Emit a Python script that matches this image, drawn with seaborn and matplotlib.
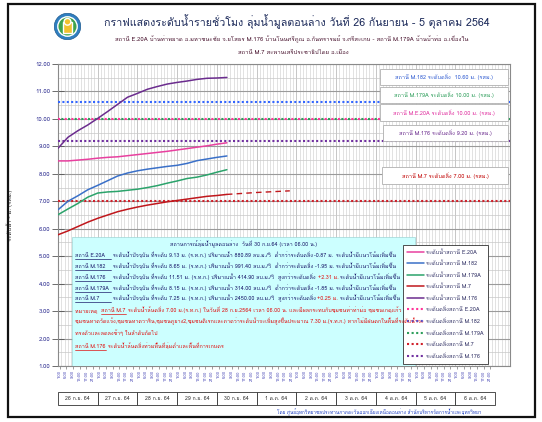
import numpy as np
import pandas as pd
import matplotlib
matplotlib.use("Agg")
import matplotlib.pyplot as plt
import seaborn as sns
from matplotlib import font_manager
from matplotlib.ft2font import FT2Font
from matplotlib.patches import Rectangle, Circle
from matplotlib.lines import Line2D
import matplotlib.transforms as mtrans
from matplotlib.ticker import MultipleLocator

# ---------------- data ----------------
hours = [0, 6, 12, 18, 24, 30, 36, 42, 48, 54, 60, 66, 72, 78, 84, 90, 96, 102]
e20a = [8.47, 8.47, 8.50, 8.53, 8.57, 8.60, 8.62, 8.66, 8.70, 8.74, 8.78, 8.82, 8.87, 8.92, 8.97, 9.02, 9.08, 9.13]
m182 = [6.69, 7.00, 7.20, 7.42, 7.58, 7.75, 7.92, 8.03, 8.11, 8.17, 8.22, 8.27, 8.31, 8.38, 8.48, 8.54, 8.60, 8.65]
m179a = [6.51, 6.72, 6.92, 7.15, 7.30, 7.34, 7.36, 7.40, 7.44, 7.50, 7.57, 7.66, 7.74, 7.83, 7.88, 7.96, 8.06, 8.15]
m7 = [5.78, 5.92, 6.08, 6.24, 6.38, 6.50, 6.62, 6.71, 6.79, 6.86, 6.92, 6.98, 7.03, 7.08, 7.13, 7.18, 7.21, 7.25]
m176 = [8.93, 9.33, 9.57, 9.78, 10.02, 10.27, 10.53, 10.79, 10.93, 11.08, 11.18, 11.27, 11.33, 11.38, 11.44, 11.48, 11.49, 11.51]

forecast_hours = [102, 120, 140]
m7_forecast = [7.25, 7.32, 7.38]

stations = ["E.20A", "M.182", "M.179A", "M.7", "M.176"]
bank_values = [10.00, 10.60, 10.00, 7.00, 9.20]

day_labels = ["26 ก.ย. 64", "27 ก.ย. 64", "28 ก.ย. 64", "29 ก.ย. 64", "30 ก.ย. 64",
              "1 ต.ค. 64", "2 ต.ค. 64", "3 ต.ค. 64", "4 ต.ค. 64", "5 ต.ค. 64", "6 ต.ค. 64"]
tick_hours = list(range(1, 264, 4))
tick_labels = [f"{h % 24}:00" for h in tick_hours]
y_ticks = [1, 2, 3, 4, 5, 6, 7, 8, 9, 10, 11, 12]

# ---------------- styling ----------------
line_colors = {"E.20A": "#E8409F", "M.182": "#3A70C8", "M.179A": "#2BA36B",
               "M.7": "#C0171C", "M.176": "#6B2C8E"}
bank_colors = {"E.20A": "#FF3399", "M.182": "#3366FF", "M.179A": "#2E9E5B",
               "M.7": "#D0202A", "M.176": "#7030A0"}


def thai_fonts():
    names = []
    for f in font_manager.fontManager.ttflist:
        try:
            if 0x0E01 in FT2Font(f.fname).get_charmap():
                if f.name not in names:
                    names.append(f.name)
        except Exception:
            pass
    return names


sns.set_theme(style="white")
thai = thai_fonts()
plt.rcParams["font.family"] = (thai[:1] if thai else []) + ["DejaVu Sans"]

W, H = 542, 422
fig = plt.figure(figsize=(W / 100, H / 100), dpi=100)
fig.patch.set_facecolor("white")


def fx(px):
    return px / W


def fy(py):
    return (H - py) / H


ax = fig.add_axes([fx(58), fy(366), fx(510) - fx(58), fy(64) - fy(366)])
ax.set_facecolor("white")

# long-form frame
series = {"E.20A": e20a, "M.182": m182, "M.179A": m179a, "M.7": m7, "M.176": m176}
rows = []
for st in stations:
    for h, v in zip(hours, series[st]):
        rows.append({"hour": h, "level": v, "label": "ระดับน้ำสถานี " + st})
df = pd.DataFrame(rows)
hue_order = ["ระดับน้ำสถานี " + s for s in stations]
palette = {"ระดับน้ำสถานี " + s: line_colors[s] for s in stations}

sns.lineplot(data=df, x="hour", y="level", hue="label", hue_order=hue_order,
             palette=palette, linewidth=1.1, ax=ax, zorder=5)

fc = pd.DataFrame({"hour": forecast_hours, "level": m7_forecast})
sns.lineplot(data=fc, x="hour", y="level", color=line_colors["M.7"], linewidth=1.0,
             ax=ax, zorder=5, legend=False)
ax.lines[-1].set_dashes((4, 3))

# bank levels
bank_styles = {"E.20A": (0, (1, 2.2)), "M.182": (0, (1, 1.1)), "M.179A": (1.6, (1, 2.2)),
               "M.7": (0, (1, 1.1)), "M.176": (0, (1, 1.1))}
bank_handles = []
for st, val in zip(stations, bank_values):
    ax.axhline(val, color=bank_colors[st], lw=1.5, ls=bank_styles[st], zorder=4)
    bank_handles.append(Line2D([], [], color=bank_colors[st], lw=1.5, ls=(0, (1, 1.2)),
                               label="ระดับตลิ่งสถานี " + st))

ax.set_xlim(0, 273)
ax.set_ylim(1, 12)
ax.set_yticks(y_ticks)
ax.set_yticklabels([f"{v:.2f}" for v in y_ticks])
ax.yaxis.set_minor_locator(MultipleLocator(0.5))
ax.set_xticks(tick_hours)
ax.set_xticklabels(tick_labels, rotation=90)
ax.xaxis.set_minor_locator(MultipleLocator(2))
ax.grid(which="major", axis="y", color="#9a9a9a", lw=0.8)
ax.grid(which="minor", axis="y", color="#c8c8c8", lw=0.5)
ax.grid(which="minor", axis="x", color="#d2d2d2", lw=0.45)
ax.grid(which="major", axis="x", visible=False)
for d in range(len(day_labels)):
    ax.axvline(d * 24, color="#a8a8a8", lw=0.6, zorder=0.5)
ax.tick_params(axis="y", which="major", direction="inout", length=9, width=0.6,
               labelsize=4.3, labelcolor="#2B2B8F", color="#555555", left=True, pad=1)
ax.tick_params(axis="x", which="major", direction="out", length=2, width=0.4,
               labelsize=3.0, labelcolor="#4545B5", color="#555555", bottom=True, pad=1)
ax.tick_params(which="minor", length=0)
for s in ax.spines.values():
    s.set_color("#8a8a8a")
    s.set_linewidth(0.8)
ax.set_xlabel("")
ax.set_ylabel("ระดับน้ำ - ม. (รสม.)", fontsize=4.3, color="#333333", labelpad=16)

# threshold label boxes
box_specs = [
    ("M.182", "#2F5BD1", 69, 85, 380, "สถานี M.182 ระดับตลิ่ง  10.60 ม. (รสม.)"),
    ("M.179A", "#2E9E5B", 87, 103, 380, "สถานี M.179A ระดับตลิ่ง 10.00 ม. (รสม.)"),
    ("E.20A", "#E0309F", 104, 121, 380, "สถานี M.E.20A ระดับตลิ่ง 10.00 ม. (รสม.)"),
    ("M.176", "#6B2C8E", 125, 141, 383, "สถานี M.176 ระดับตลิ่ง 9.20 ม. (รสม.)"),
    ("M.7", "#C00000", 167, 184, 382, "สถานี M.7 ระดับตลิ่ง 7.00 ม. (รสม.)"),
]
ax_w = 510 - 58
ax_h = 366 - 64


def axx(px):
    return (px - 58) / ax_w


def axy(py):
    return (366 - py) / ax_h


for st, col, top, bot, left, txt in box_specs:
    ax.add_patch(Rectangle((axx(left), axy(bot)), axx(508) - axx(left), axy(top) - axy(bot),
                           transform=ax.transAxes, facecolor="white", edgecolor="#b0b0b0",
                           lw=0.6, zorder=8))
    ax.text((axx(left) + axx(508)) / 2, (axy(top) + axy(bot)) / 2, txt, transform=ax.transAxes,
            ha="center", va="center", fontsize=4.0, color=col, zorder=9)

# info box
ax.add_patch(Rectangle((axx(72), 0), axx(415) - axx(72), axy(237), transform=ax.transAxes,
                       facecolor="#CCFFFF", edgecolor="#9fd6d6", lw=0.5, zorder=7))

renderer = fig.canvas.get_renderer()
fs = 3.9


def seg_line(x_px, y_px, segments):
    """segments: list of (text, colour, underline). positions in image px (top-left origin)."""
    x = x_px
    ybase = H - y_px
    for s, col, ul in segments:
        t = fig.text(x / W, ybase / H, s, color=col, fontsize=fs, va="baseline", ha="left", zorder=10)
        bb = t.get_window_extent(renderer)
        if ul:
            fig.add_artist(Line2D([bb.x0 / W, bb.x1 / W], [(ybase - 2) / H] * 2,
                                  color=col, lw=0.5, zorder=10))
        x = bb.x1


navy = "#1B1B6B"
red = "#E01010"
fig.text(fx(244), 1 - (244 + 2) / H, "สถานการณ์ลุ่มน้ำมูลตอนล่าง  วันที่ 30 ก.ย.64 (เวลา 06.00 น.)",
         fontsize=fs, color=navy, ha="center", va="baseline", zorder=10)
info_rows = [
    ("สถานี E.20A   ", " ระดับน้ำปัจจุบัน ที่ระดับ 9.13 ม. (ร.ท.ก.) ปริมาณน้ำ 880.89 ลบ.ม./วิ  ต่ำกว่าระดับตลิ่ง ",
     "-0.87 ม.", " ระดับน้ำมีแนวโน้มเพิ่มขึ้น", navy),
    ("สถานี M.182   ", " ระดับน้ำปัจจุบัน ที่ระดับ 8.65 ม. (ร.ท.ก.) ปริมาณน้ำ 991.40 ลบ.ม./วิ  ต่ำกว่าระดับตลิ่ง ",
     "-1.95 ม.", " ระดับน้ำมีแนวโน้มเพิ่มขึ้น", navy),
    ("สถานี M.176   ", " ระดับน้ำปัจจุบัน ที่ระดับ 11.51 ม. (ร.ท.ก.) ปริมาณน้ำ 414.90 ลบ.ม./วิ  สูงกว่าระดับตลิ่ง ",
     "+2.31 ม.", " ระดับน้ำมีแนวโน้มเพิ่มขึ้น", red),
    ("สถานี M.179A ", " ระดับน้ำปัจจุบัน ที่ระดับ 8.15 ม. (ร.ท.ก.) ปริมาณน้ำ 314.00 ลบ.ม./วิ  ต่ำกว่าระดับตลิ่ง ",
     "-1.85 ม.", " ระดับน้ำมีแนวโน้มเพิ่มขึ้น", navy),
    ("สถานี M.7      ", " ระดับน้ำปัจจุบัน ที่ระดับ 7.25 ม. (ร.ท.ก.) ปริมาณน้ำ 2450.00 ลบ.ม./วิ  สูงกว่าระดับตลิ่ง ",
     "+0.25 ม.", " ระดับน้ำมีแนวโน้มเพิ่มขึ้น", red),
]
row_y = [257, 268, 279, 290, 300]
for (nm, mid, val, tail, vcol), yy in zip(info_rows, row_y):
    seg_line(75, yy, [(nm, navy, True), (mid, navy, False), (val, vcol, False), (tail, navy, False)])

seg_line(75, 312, [("หมายเหตุ  ", red, False), ("สถานี M.7", red, True),
                   (" ระดับน้ำล้นตลิ่ง 7.00 ม.(ร.ท.ก.) ในวันที่ 28 ก.ย.2564 เวลา 06.00 น. และมีผลกระทบกับชุมชนท่าท่าม่อ ชุมชนเกตุแก้ว", red, False)])
seg_line(75, 323, [("ชุมชนหาดวัดแจ้ง,ชุมชนหาดวาริน,ชุมชนคูยาง2,ชุมชนดิเรกและคาดว่าระดับน้ำจะเพิ่มสูงขึ้นประมาณ 7.30 ม.(ร.ท.ก.) หากไม่มีฝนตกในพื้นที่ระดับน้ำจะ", red, False)])
seg_line(75, 335, [("ทรงตัวและลดลงช้าๆ ในลำดับถัดไป", red, False)])
seg_line(75, 348, [("สถานี M.176", red, True), (" ระดับน้ำล้นตลิ่งท่วมพื้นที่ลุ่มต่ำและพื้นที่การเกษตร", red, False)])

# legend
handles, labels = ax.get_legend_handles_labels()
handles = handles[:5] + bank_handles
labels = labels[:5] + [h.get_label() for h in bank_handles]
leg = ax.legend(handles, labels, loc="upper left", bbox_to_anchor=(axx(403), axy(245)),
                fontsize=4.0, frameon=True, fancybox=False, edgecolor="#333333",
                framealpha=1, handlelength=3.0, labelspacing=1.05, borderpad=0.8,
                handletextpad=0.3, borderaxespad=0)
leg.get_frame().set_linewidth(0.6)
leg.set_zorder(12)
for t in leg.get_texts():
    t.set_color("#333366")

# titles
fig.text(fx(297), fy(22), "กราฟแสดงระดับน้ำรายชั่วโมง ลุ่มน้ำมูลตอนล่าง วันที่ 26 กันยายน - 5 ตุลาคม 2564",
         fontsize=7.7, color="#1C2A5A", ha="center", va="center")
fig.text(fx(292), fy(39), "สถานี E.20A บ้านท่าพยาด อ.มหาชนะชัย จ.ยโสธร M.176 บ้านโนนศรีคูณ อ.กันทรารมย์ จ.ศรีสะเกษ - สถานี M.179A บ้านบ้าท่อ อ.เขื่องใน",
         fontsize=4.3, color="#4A1530", ha="center", va="center")
fig.text(fx(293), fy(53), "สถานี M.7 สะพานเสรีประชาธิปไตย อ.เมือง",
         fontsize=4.3, color="#4A1530", ha="center", va="center")

# logo
lax = fig.add_axes([fx(54), fy(40), fx(27), 27 / H])
lax.set_xlim(-1, 1)
lax.set_ylim(-1, 1)
lax.set_aspect("equal")
lax.axis("off")
lax.add_patch(Circle((0, 0), 0.98, facecolor="#2F7FC0", edgecolor="#1E5A90", lw=0.5))
lax.add_patch(Circle((0, 0), 0.72, facecolor="#3FA34D"))
lax.add_patch(Rectangle((-0.3, -0.45), 0.6, 0.8, facecolor="#F2C12E"))
lax.add_patch(Circle((0, 0.35), 0.25, facecolor="#F2C12E"))

# date table
blend = mtrans.blended_transform_factory(ax.transData, fig.transFigure)
for i, lab in enumerate(day_labels):
    ax.add_patch(Rectangle((i * 24, fy(405)), 24, fy(392) - fy(405), transform=blend,
                           facecolor="white", edgecolor="#333333", lw=0.6, clip_on=False))
    ax.text(i * 24 + 12, (fy(405) + fy(392)) / 2, lab, transform=blend, ha="center",
            va="center", fontsize=3.8, color="#333333", clip_on=False)

fig.text(fx(482), fy(412), "โดย ศูนย์อุทกวิทยาชลประทานภาคตะวันออกเฉียงเหนือตอนล่าง สำนักบริหารจัดการน้ำและอุทกวิทยา",
         fontsize=3.4, color="#2040C0", ha="right", va="center")

# outer frame
fig.add_artist(Rectangle((fx(8), fy(417)), fx(535) - fx(8), fy(4) - fy(417),
                         transform=fig.transFigure, facecolor="none", edgecolor="#111111", lw=1.6))

fig.savefig("out.png", dpi=100)
